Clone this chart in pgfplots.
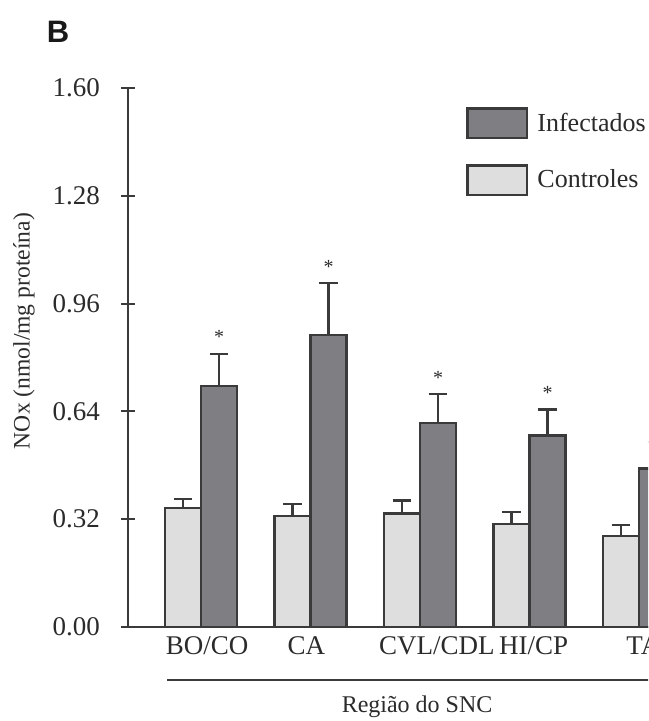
\documentclass[border=0pt]{standalone}
\usepackage{pgfplots}
\pgfplotsset{compat=1.18}
\usepackage{fontspec}
\setmainfont{Liberation Serif}
\newfontfamily\panelfont{Liberation Sans}

\definecolor{ctrl}{HTML}{DEDEDE}
\definecolor{inf}{HTML}{7E7E83}
\definecolor{edge}{HTML}{3A3A3A}
\definecolor{txt}{HTML}{2B2B2B}

\begin{document}
\begin{tikzpicture}[font=\fontsize{13}{15}\selectfont, text=txt]
\useasboundingbox (0,0) rectangle (324pt,360.5pt);
\clip (0,0) rectangle (324pt,360.5pt);
\begin{axis}[
    at={(64pt,47pt)}, anchor=south west,
    scale only axis,
    width=292pt, height=269.5pt,
    xmin=-0.6667, xmax=4.6667,
    ymin=0, ymax=1.6,
    axis x line*=bottom, axis y line*=left,
    axis line style={draw=edge, line width=1pt},
    xtick={0.055,0.963,2.155,3.037,4.04},
    xticklabels={BO/CO, CA, CVL/CDL, HI/CP, TA},
    xtick style={draw=none},
    xticklabel style={yshift=2pt, font=\fontsize{13.5}{15}\selectfont},
    ytick={0,0.32,0.64,0.96,1.28,1.6},
    ytick style={draw=edge, line width=1pt},
    tick align=center,
    major tick length=7pt,
    yticklabel style={xshift=-7pt, font=\fontsize{13.5}{15}\selectfont,
        /pgf/number format/.cd, fixed, fixed zerofill, precision=2},
    /pgf/number format/assume math mode=true,
    ylabel={NOx (nmol/mg proteína)},
    xlabel={Região do SNC},
    every axis y label/.style={at={(axis description cs:-0.178,0.549)}, rotate=90, anchor=center, font=\fontsize{11.8}{13}\selectfont},
    every axis x label/.style={at={(axis description cs:0.495,-0.148)}, anchor=center, font=\fontsize{12}{14}\selectfont},
    clip=false,
    reverse legend,
    legend image code/.code={\draw[#1] (0pt,-7.4pt) rectangle (29.8pt,7.4pt);},
    legend style={at={(axis description cs:0.5788,0.9648)}, anchor=north west,
        draw=none, fill=none, inner sep=0pt, row sep=12.5pt, column sep=4.5pt,
        nodes={inner sep=0pt}},
    legend cell align=left,
    error bars/y dir=plus,
    error bars/y explicit,
]
\addplot[ybar, bar width=18pt, bar shift=-9pt, fill=ctrl, draw=edge, line width=1.2pt,
    error bars/error mark options={rotate=90, mark size=4.7pt, line width=1.2pt, draw=edge, xshift=-9pt},
    error bars/error bar style={line width=1.2pt, draw=edge, xshift=-9pt}]
    coordinates {(0,0.353) +- (0,0.027) (1,0.330) +- (0,0.035) (2,0.337) +- (0,0.039) (3,0.305) +- (0,0.037) (4,0.271) +- (0,0.031)};
\addlegendentry{Controles}
\addplot[ybar, bar width=18pt, bar shift=9pt, fill=inf, draw=edge, line width=1.2pt,
    error bars/error mark options={rotate=90, mark size=4.7pt, line width=1.2pt, draw=edge, xshift=9pt},
    error bars/error bar style={line width=1.2pt, draw=edge, xshift=9pt}]
    coordinates {(0,0.716) +- (0,0.095) (1,0.866) +- (0,0.155) (2,0.606) +- (0,0.085) (3,0.569) +- (0,0.077) (4,0.470) +- (0,0.080)};
\addlegendentry{Infectados}
% significance marks above the error bars
\addplot[ybar, bar width=18pt, bar shift=9pt, draw=none, fill=none, forget plot,
    nodes near coords={*},
    every node near coord/.append style={anchor=base, xshift=9pt, yshift=5pt, font=\fontsize{10}{12}\selectfont}]
    coordinates {(0,0.811) (1,1.021) (2,0.691) (3,0.646)};
\draw[edge, line width=1pt] (axis cs:-0.31,-0.157) -- (axis cs:5,-0.157);
\end{axis}
\node[font=\panelfont\bfseries\fontsize{15.5}{17}\selectfont, text=black!90] at (29pt,344.5pt) {B};
\end{tikzpicture}
\end{document}
